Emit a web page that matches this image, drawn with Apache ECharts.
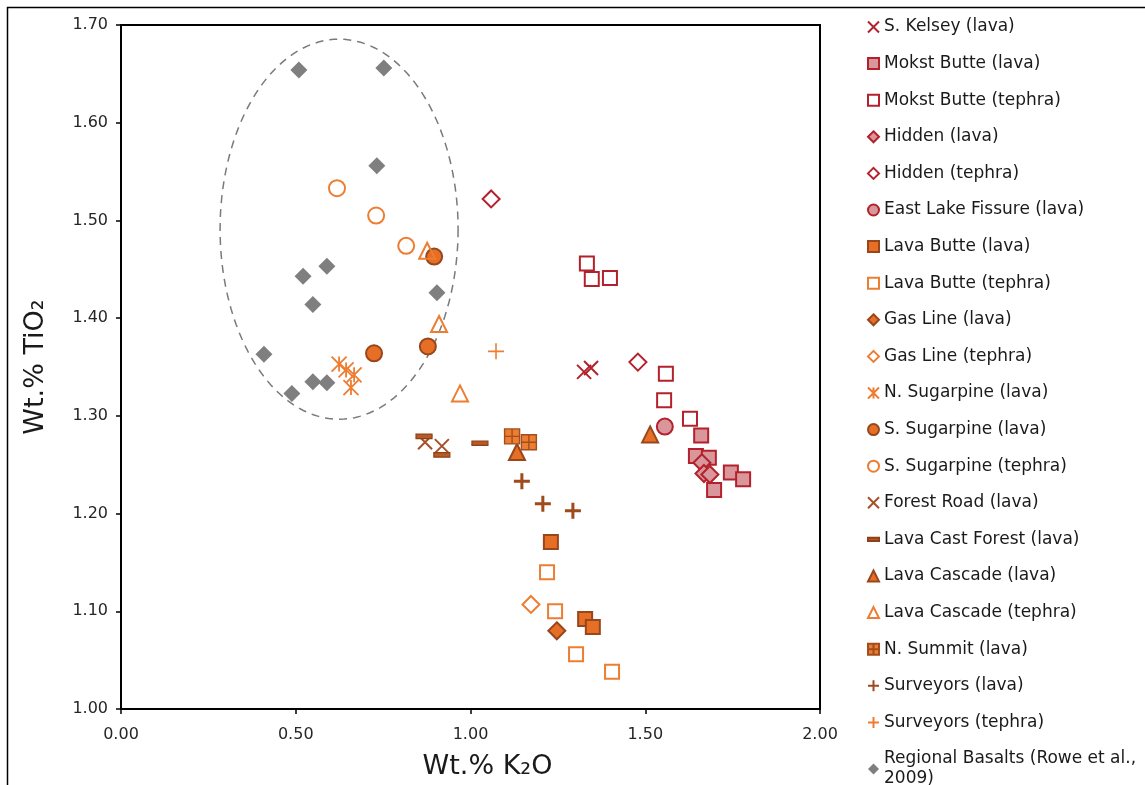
<!DOCTYPE html>
<html>
<head>
<meta charset="utf-8">
<title>TiO2 vs K2O</title>
<script src="https://cdn.jsdelivr.net/npm/echarts@6/dist/echarts.min.js"></script>
<style>
  html, body { margin: 0; padding: 0; background: #fff; }
  #main { width: 1145px; height: 785px; }
</style>
</head>
<body>
<div id="main"></div>
<script>
// [K2O, TiO2] pairs
var sKelsey = [[1.325, 1.345], [1.345, 1.349]];
var mokstLava = [[1.660, 1.280], [1.645, 1.259], [1.682, 1.257], [1.745, 1.242], [1.780, 1.235], [1.697, 1.224]];
var mokstTephra = [[1.333, 1.456], [1.347, 1.440], [1.399, 1.441], [1.559, 1.343], [1.554, 1.316], [1.628, 1.297]];
var hiddenLava = [[1.662, 1.252], [1.668, 1.241], [1.685, 1.240]];
var hiddenTephra = [[1.059, 1.522], [1.479, 1.355]];
var eastLake = [[1.556, 1.289]];
var lavaButteLava = [[1.230, 1.171], [1.328, 1.092], [1.350, 1.084]];
var lavaButteTephra = [[1.219, 1.140], [1.242, 1.100], [1.302, 1.056], [1.405, 1.038]];
var gasLineLava = [[1.247, 1.080]];
var gasLineTephra = [[1.173, 1.107]];
var nSugarpine = [[0.624, 1.353], [0.644, 1.347], [0.667, 1.342], [0.658, 1.329]];
var sSugarpineLava = [[0.896, 1.463], [0.724, 1.364], [0.878, 1.371]];
var sSugarpineTephra = [[0.618, 1.533], [0.730, 1.505], [0.816, 1.474]];
var forestRoad = [[0.870, 1.273], [0.918, 1.269]];
var lavaCastForest = [[0.867, 1.279], [0.918, 1.260], [1.027, 1.272]];
var lavaCascadeLava = [[1.133, 1.263], [1.514, 1.281]];
var lavaCascadeTephra = [[0.876, 1.469], [0.910, 1.394], [0.970, 1.323]];
var nSummit = [[1.119, 1.279], [1.167, 1.273]];
var surveyorsLava = [[1.147, 1.233], [1.207, 1.210], [1.293, 1.203]];
var surveyorsTephra = [[1.073, 1.366]];
var regionalBasalts = [[0.509, 1.654], [0.752, 1.656], [0.732, 1.556], [0.589, 1.453], [0.521, 1.443], [0.549, 1.414],
  [0.904, 1.426], [0.409, 1.363], [0.489, 1.323], [0.549, 1.335], [0.589, 1.334]];

// dashed field around the regional basalts: centre and half-widths, in axis units
var fieldEllipse = [0.624, 1.491, 0.3405, 0.1945];

var xTicks = [0, 0.5, 1.0, 1.5, 2.0];
var yTicks = [1.0, 1.1, 1.2, 1.3, 1.4, 1.5, 1.6, 1.7];

var FONT = 'DejaVu Sans';
var RED = '#b3222c', PINK = '#d9969b';
var ORANGE = '#ed7d31', ORANGE_FILL = '#e66f25', BROWN = '#98461c';

var X_PATH = 'path://M0,0L10,10M10,0L0,10';
var PLUS_PATH = 'path://M5,0L5,10M0,5L10,5';
var STAR_PATH = 'path://M0,0L10,10M10,0L0,10M5,0L5,10';
var DASH_PATH = 'path://M0,0M10,10M0,3.6L10,3.6L10,6.4L0,6.4Z';
var BOXCROSS_PATH = 'path://M0,0L10,0L10,10L0,10ZM5,0L5,10M0,5L10,5';

function pts(name, data, symbol, size, fill, stroke, bw) {
  return {
    name: name,
    type: 'scatter',
    data: data,
    symbol: symbol,
    symbolSize: size,
    itemStyle: { color: fill, borderColor: stroke, borderWidth: bw, opacity: 1 },
    emphasis: { disabled: true },
    z: 3
  };
}

var series = [
  pts('S. Kelsey (lava)', sKelsey, X_PATH, 14, RED, RED, 2),
  pts('Mokst Butte (lava)', mokstLava, 'rect', 14, PINK, RED, 2),
  pts('Mokst Butte (tephra)', mokstTephra, 'rect', 14, 'rgba(255,255,255,0)', RED, 2),
  pts('Hidden (lava)', hiddenLava, 'diamond', 17, PINK, RED, 2),
  pts('Hidden (tephra)', hiddenTephra, 'diamond', 17, 'rgba(255,255,255,0)', RED, 2),
  pts('East Lake Fissure (lava)', eastLake, 'circle', 16, PINK, RED, 2),
  pts('Lava Butte (lava)', lavaButteLava, 'rect', 14, ORANGE_FILL, BROWN, 2),
  pts('Lava Butte (tephra)', lavaButteTephra, 'rect', 14, 'rgba(255,255,255,0)', ORANGE, 2),
  pts('Gas Line (lava)', gasLineLava, 'diamond', 17, ORANGE_FILL, BROWN, 2),
  pts('Gas Line (tephra)', gasLineTephra, 'diamond', 17, 'rgba(255,255,255,0)', ORANGE, 2),
  pts('N. Sugarpine (lava)', nSugarpine, STAR_PATH, 15, ORANGE, ORANGE, 1.8),
  pts('S. Sugarpine (lava)', sSugarpineLava, 'circle', 16, ORANGE_FILL, BROWN, 2),
  pts('S. Sugarpine (tephra)', sSugarpineTephra, 'circle', 16, 'rgba(255,255,255,0)', ORANGE, 2),
  pts('Forest Road (lava)', forestRoad, X_PATH, 14, '#a5512a', '#a5512a', 2),
  pts('Lava Cast Forest (lava)', lavaCastForest, DASH_PATH, 16, '#b85a25', '#8e4118', 1.2),
  pts('Lava Cascade (lava)', lavaCascadeLava, 'triangle', 16, ORANGE_FILL, BROWN, 2),
  pts('Lava Cascade (tephra)', lavaCascadeTephra, 'triangle', 16, 'rgba(255,255,255,0)', ORANGE, 2),
  pts('N. Summit (lava)', nSummit, BOXCROSS_PATH, 15, ORANGE, '#a24d1e', 1.4),
  pts('Surveyors (lava)', surveyorsLava, PLUS_PATH, 16, '#9e4a1c', '#9e4a1c', 3),
  pts('Surveyors (tephra)', surveyorsTephra, PLUS_PATH, 16, ORANGE, ORANGE, 1.6),
  pts('Regional Basalts (Rowe et al., 2009)', regionalBasalts, 'diamond', 17, '#7f7f7f', '#7f7f7f', 0)
];

var names = series.map(function (s) { return s.name; });

series.unshift({
  type: 'custom',
  silent: true,
  z: 2,
  data: [fieldEllipse],
  renderItem: function (params, api) {
    var c = api.coord([api.value(0), api.value(1)]);
    var r = api.size([api.value(2), api.value(3)]);
    var ring = [];
    for (var i = 0; i <= 144; i++) {
      var t = i / 144 * Math.PI * 2;
      ring.push([c[0] + r[0] * Math.cos(t), c[1] + r[1] * Math.sin(t)]);
    }
    return {
      type: 'polyline',
      shape: { points: ring },
      style: { fill: null, stroke: '#7a7a7a', lineWidth: 1.5, lineDash: [8, 6] }
    };
  }
});

var chart = echarts.init(document.getElementById('main'));
chart.setOption({
  animation: false,
  backgroundColor: '#fff',
  graphic: [{
    type: 'rect',
    shape: { x: 7.5, y: 7.5, width: 1300, height: 1000 },
    style: { fill: null, stroke: '#000', lineWidth: 1.5 },
    silent: true
  }],
  grid: {
    left: 121, right: 325, top: 25, bottom: 76,
    show: true, borderColor: '#000', borderWidth: 2
  },
  legend: {
    data: names,
    orient: 'vertical',
    left: 867,
    top: 17,
    height: 1200,
    padding: 0,
    itemWidth: 11,
    itemHeight: 11,
    itemGap: 16.6,
    selectedMode: false,
    formatter: function (n) { return n.replace(', 2009)', ',\n2009)'); },
    textStyle: { fontFamily: FONT, fontSize: 17, color: '#1a1a1a', lineHeight: 20 }
  },
  xAxis: {
    type: 'value',
    min: xTicks[0],
    max: xTicks[xTicks.length - 1],
    interval: 0.5,
    name: 'Wt.% K₂O',
    nameLocation: 'middle',
    nameGap: 44,
    nameTextStyle: { fontFamily: FONT, fontSize: 27, color: '#1a1a1a', padding: [0, 0, 0, 34] },
    axisLine: { lineStyle: { color: '#000', width: 2 } },
    axisTick: { show: true, inside: false, length: 5, lineStyle: { color: '#000', width: 1.5 } },
    axisLabel: {
      margin: 18, fontFamily: FONT, fontSize: 16, color: '#262626',
      formatter: function (v) { return v.toFixed(2); }
    },
    splitLine: { show: false }
  },
  yAxis: {
    type: 'value',
    min: yTicks[0],
    max: yTicks[yTicks.length - 1],
    interval: 0.1,
    name: 'Wt.% TiO₂',
    nameLocation: 'middle',
    nameGap: 72,
    nameRotate: 90,
    nameTextStyle: { fontFamily: FONT, fontSize: 27, color: '#1a1a1a' },
    axisLine: { show: true, lineStyle: { color: '#000', width: 2 } },
    axisTick: { show: true, inside: false, length: 5, lineStyle: { color: '#000', width: 1.5 } },
    axisLabel: {
      margin: 13, fontFamily: FONT, fontSize: 16, color: '#262626',
      formatter: function (v) { return v.toFixed(2); }
    },
    splitLine: { show: false }
  },
  series: series
});
</script>
</body>
</html>
